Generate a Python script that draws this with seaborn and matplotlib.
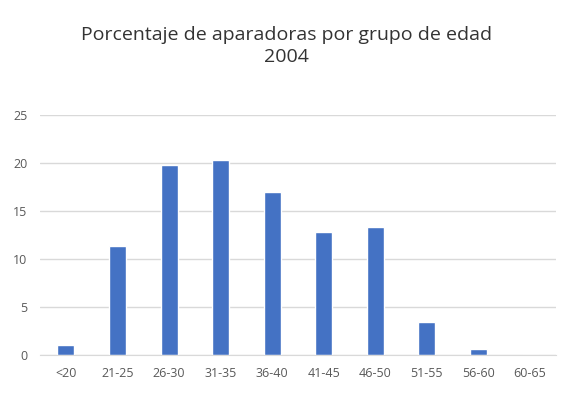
import matplotlib
matplotlib.use("Agg")
import matplotlib.pyplot as plt
import seaborn as sns
import pandas as pd

grupos = ["<20", "21-25", "26-30", "31-35", "36-40", "41-45", "46-50", "51-55", "56-60", "60-65"]
porcentajes = [1.0, 11.4, 19.8, 20.3, 17.0, 12.8, 13.3, 3.4, 0.6, 0.0]
ticks_y = [0, 5, 10, 15, 20, 25]

df = pd.DataFrame({"grupo": grupos, "porcentaje": porcentajes})

sns.set_style("white")
plt.rcParams["font.family"] = ["Open Sans", "DejaVu Sans"]

fig = plt.figure(figsize=(5.73, 3.93), dpi=100)
ax = fig.add_axes([0.07, 0.097, 0.9, 0.61])

sns.barplot(data=df, x="grupo", y="porcentaje", color="#4472C4", width=0.33,
            saturation=1, ax=ax)

ax.set_ylim(0, 25)
ax.set_yticks(ticks_y)
ax.set_xlim(-0.5, len(grupos) - 0.5)
ax.yaxis.grid(True, color="#D9D9D9", linewidth=1)
ax.set_axisbelow(True)
for s in ["top", "right", "left"]:
    ax.spines[s].set_visible(False)
ax.spines["bottom"].set_color("#D9D9D9")
ax.tick_params(axis="both", length=0, labelsize=9, colors="#595959", pad=9)
ax.set_xlabel("")
ax.set_ylabel("")

fig.suptitle("Porcentaje de aparadoras por grupo de edad\n2004", y=0.935,
             fontsize=14, color="#333333", linespacing=1.3)

fig.savefig("out.png", dpi=100)
